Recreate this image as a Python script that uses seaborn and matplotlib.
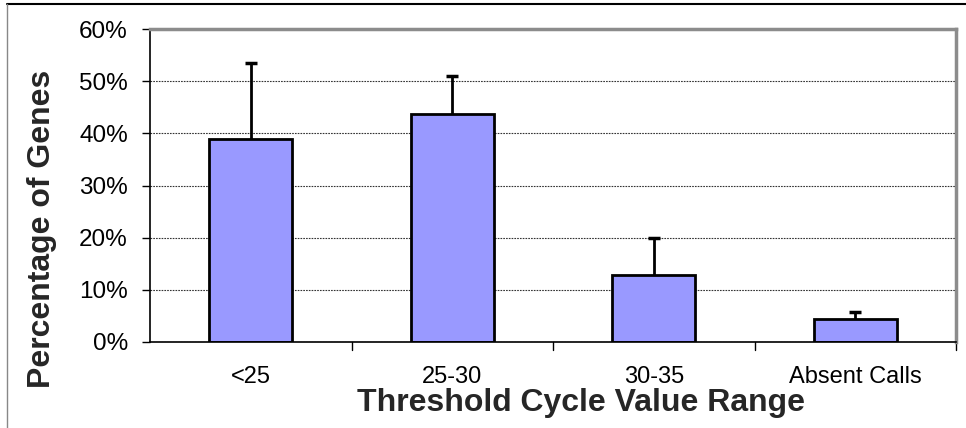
import pandas as pd
import matplotlib
matplotlib.use('Agg')
import matplotlib.pyplot as plt
from matplotlib.lines import Line2D
from matplotlib.ticker import PercentFormatter
import seaborn as sns

categories = ['<25', '25-30', '30-35', 'Absent Calls']
percent_genes = [39.0, 43.8, 12.8, 4.5]
error_up = [14.5, 7.2, 7.2, 1.2]

df = pd.DataFrame({'range': categories, 'pct': percent_genes})

sns.set_style('white')
plt.rcParams['font.family'] = ['Liberation Sans', 'DejaVu Sans']
plt.rcParams['text.color'] = 'black'
plt.rcParams['xtick.color'] = 'black'
plt.rcParams['ytick.color'] = 'black'

fig = plt.figure(figsize=(9.66, 4.28), dpi=100)
ax = fig.add_axes([150 / 966, 1 - 342 / 428, 806 / 966, 313 / 428])

sns.barplot(data=df, x='range', y='pct', color='#9999FF', saturation=1,
            edgecolor='black', linewidth=2, width=0.41, errorbar=None, ax=ax)
_, caps, _ = ax.errorbar(range(len(categories)), percent_genes,
                         yerr=[[0] * len(categories), error_up], fmt='none',
                         ecolor='black', elinewidth=2, capsize=4.5, capthick=2.5, zorder=3)
caps[0].set_visible(False)  # only the upper half is drawn

ax.set_ylim(0, 60)
ax.set_xlim(-0.5, len(categories) - 0.5)
ax.yaxis.set_major_formatter(PercentFormatter(decimals=0))
ax.set_yticks(range(0, 61, 10))
ax.grid(axis='y', color='#333333', linestyle=(0, (1.5, 1)), linewidth=0.8)
ax.set_axisbelow(True)

ax.tick_params(axis='y', length=6, width=1, labelsize=17.5, pad=10, left=True)
ax.tick_params(axis='x', length=0, labelsize=17, pad=17)
# category boundary ticks under the axis
for b in [0.5, 1.5, 2.5, 3.5]:
    ax.plot([b, b], [0, -1.6], color='black', lw=1, clip_on=False)

for side in ['left', 'bottom']:
    ax.spines[side].set_color('black')
    ax.spines[side].set_linewidth(1.2)
for side in ['top', 'right']:
    ax.spines[side].set_color('#8c8c8c')
    ax.spines[side].set_linewidth(2.5)

ax.set_xlabel('Threshold Cycle Value Range', fontsize=23, fontweight='bold')
ax.set_ylabel('Percentage of Genes', fontsize=23, fontweight='bold')
ax.xaxis.set_label_coords(0.535, -0.148)
ax.yaxis.set_label_coords(-0.116, 0.36)

# outer chart border
fig.add_artist(Line2D([7 / 966, 1], [1 - 4 / 428, 1 - 4 / 428], color='black', lw=1.5))
fig.add_artist(Line2D([7 / 966, 7 / 966], [0, 1 - 4 / 428], color='#888888', lw=1))

fig.savefig('out.png', dpi=100)
